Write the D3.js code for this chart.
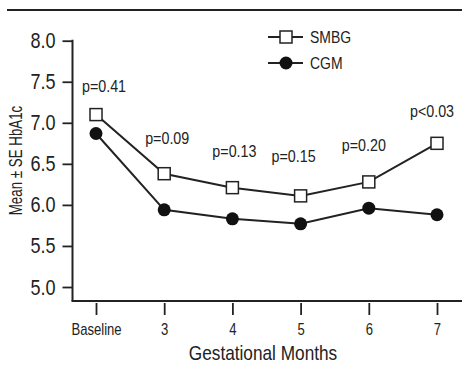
<!DOCTYPE html>
<html>
<head>
<meta charset="utf-8">
<script src="https://cdn.jsdelivr.net/npm/d3@7"></script>
<style>
  body { margin: 0; background: #fff; }
  svg { display: block; font-family: "Liberation Sans", Arial, sans-serif; }
  .tick text { fill: #222; }
</style>
</head>
<body>
<svg width="462" height="366"></svg>
<script>
// data
const months = ["Baseline", "3", "4", "5", "6", "7"];
const smbg = [7.10, 6.38, 6.21, 6.11, 6.28, 6.75];
const cgm = [6.87, 5.94, 5.83, 5.77, 5.96, 5.88];
const pValues = ["p=0.41", "p=0.09", "p=0.13", "p=0.15", "p=0.20", "p<0.03"];
const yTicks = [5.0, 5.5, 6.0, 6.5, 7.0, 7.5, 8.0];

// where each p label sits (pixel nudge from its month, baseline in HbA1c units)
const pLabelDx = [8, 3, 2, -7, -5, -5];
const pLabelY = [7.375, 6.74, 6.58, 6.52, 6.66, 7.07];

const ink = "#222";
const svg = d3.select("svg");

// the original uses a condensed face; squeeze the regular one to match
function squeeze(sel, k) {
    sel.each(function() {
        const w = this.getComputedTextLength();
        d3.select(this)
            .attr("textLength", w * k)
            .attr("lengthAdjust", "spacingAndGlyphs");
    });
}

const x = d3.scalePoint()
    .domain(months)
    .range([96, 437]);

const y = d3.scaleLinear()
    .domain([5, 8])
    .range([287, 40.7]);

// top rule
svg.append("line")
    .attr("x1", 7).attr("x2", 462)
    .attr("y1", 10).attr("y2", 10)
    .attr("stroke", ink).attr("stroke-width", 2);

// y axis
const yAxis = d3.axisLeft(y)
    .tickValues(yTicks)
    .tickSize(10)
    .tickPadding(7)
    .tickFormat(d3.format(".1f"));

const gy = svg.append("g")
    .attr("transform", "translate(72.5,0)")
    .call(yAxis);
gy.select(".domain").remove();
gy.selectAll(".tick line").attr("stroke", ink).attr("stroke-width", 1.8);
gy.selectAll(".tick text").style("font-size", "22px").call(squeeze, 0.82);

svg.append("line")
    .attr("x1", 72.5).attr("x2", 72.5)
    .attr("y1", y(8) - 1).attr("y2", 301)
    .attr("stroke", ink).attr("stroke-width", 2);

// x axis
svg.append("line")
    .attr("x1", 71.5).attr("x2", 462)
    .attr("y1", 301).attr("y2", 301)
    .attr("stroke", ink).attr("stroke-width", 2);

const xAxis = d3.axisBottom(x)
    .tickSize(12)
    .tickPadding(8);

const gx = svg.append("g")
    .attr("transform", "translate(0,303)")
    .call(xAxis);
gx.select(".domain").remove();
gx.selectAll(".tick line").attr("stroke", ink).attr("stroke-width", 1.8);
gx.selectAll(".tick text")
    .style("font-size", "17px")
    .call(squeeze, 0.77);

// axis titles
svg.append("text")
    .attr("x", 263).attr("y", 360)
    .attr("text-anchor", "middle")
    .style("font-size", "21px")
    .attr("fill", ink)
    .text("Gestational Months")
    .call(squeeze, 0.82);

svg.append("text")
    .attr("transform", "translate(22,160.5) rotate(-90)")
    .attr("text-anchor", "middle")
    .style("font-size", "18px")
    .attr("fill", ink)
    .text("Mean ± SE HbA1c")
    .call(squeeze, 0.74);

// lines
const line = d3.line()
    .x((d, i) => x(months[i]))
    .y(d => y(d));

svg.append("path")
    .datum(smbg)
    .attr("d", line)
    .attr("fill", "none")
    .attr("stroke", ink)
    .attr("stroke-width", 2);

svg.append("path")
    .datum(cgm)
    .attr("d", line)
    .attr("fill", "none")
    .attr("stroke", ink)
    .attr("stroke-width", 2);

// markers
const sq = 12;
svg.selectAll(".smbg")
    .data(smbg)
    .join("rect")
    .attr("class", "smbg")
    .attr("x", (d, i) => x(months[i]) - sq / 2)
    .attr("y", d => y(d) - sq / 2)
    .attr("width", sq).attr("height", sq)
    .attr("fill", "#fff")
    .attr("stroke", ink)
    .attr("stroke-width", 1.5);

svg.selectAll(".cgm")
    .data(cgm)
    .join("circle")
    .attr("class", "cgm")
    .attr("cx", (d, i) => x(months[i]))
    .attr("cy", d => y(d))
    .attr("r", 6.5)
    .attr("fill", "#111");

// p values
svg.selectAll(".pval")
    .data(pValues)
    .join("text")
    .attr("class", "pval")
    .attr("x", (d, i) => x(months[i]) + pLabelDx[i])
    .attr("y", (d, i) => y(pLabelY[i]))
    .attr("text-anchor", "middle")
    .style("font-size", "17px")
    .attr("fill", ink)
    .text(d => d)
    .call(squeeze, 0.84);

// legend
const legend = svg.append("g").attr("transform", "translate(268,0)");
legend.append("line")
    .attr("x1", 0).attr("x2", 35)
    .attr("y1", 37).attr("y2", 37)
    .attr("stroke", ink).attr("stroke-width", 1.8);
legend.append("rect")
    .attr("x", 18 - sq / 2).attr("y", 37 - sq / 2)
    .attr("width", sq).attr("height", sq)
    .attr("fill", "#fff").attr("stroke", ink).attr("stroke-width", 1.5);
legend.append("text")
    .attr("x", 42).attr("y", 43)
    .style("font-size", "17px").attr("fill", ink)
    .text("SMBG")
    .call(squeeze, 0.82);

legend.append("line")
    .attr("x1", 0).attr("x2", 35)
    .attr("y1", 63).attr("y2", 63)
    .attr("stroke", ink).attr("stroke-width", 1.8);
legend.append("circle")
    .attr("cx", 18).attr("cy", 63).attr("r", 6.5)
    .attr("fill", "#111");
legend.append("text")
    .attr("x", 42).attr("y", 69)
    .style("font-size", "17px").attr("fill", ink)
    .text("CGM")
    .call(squeeze, 0.82);
</script>
</body>
</html>
